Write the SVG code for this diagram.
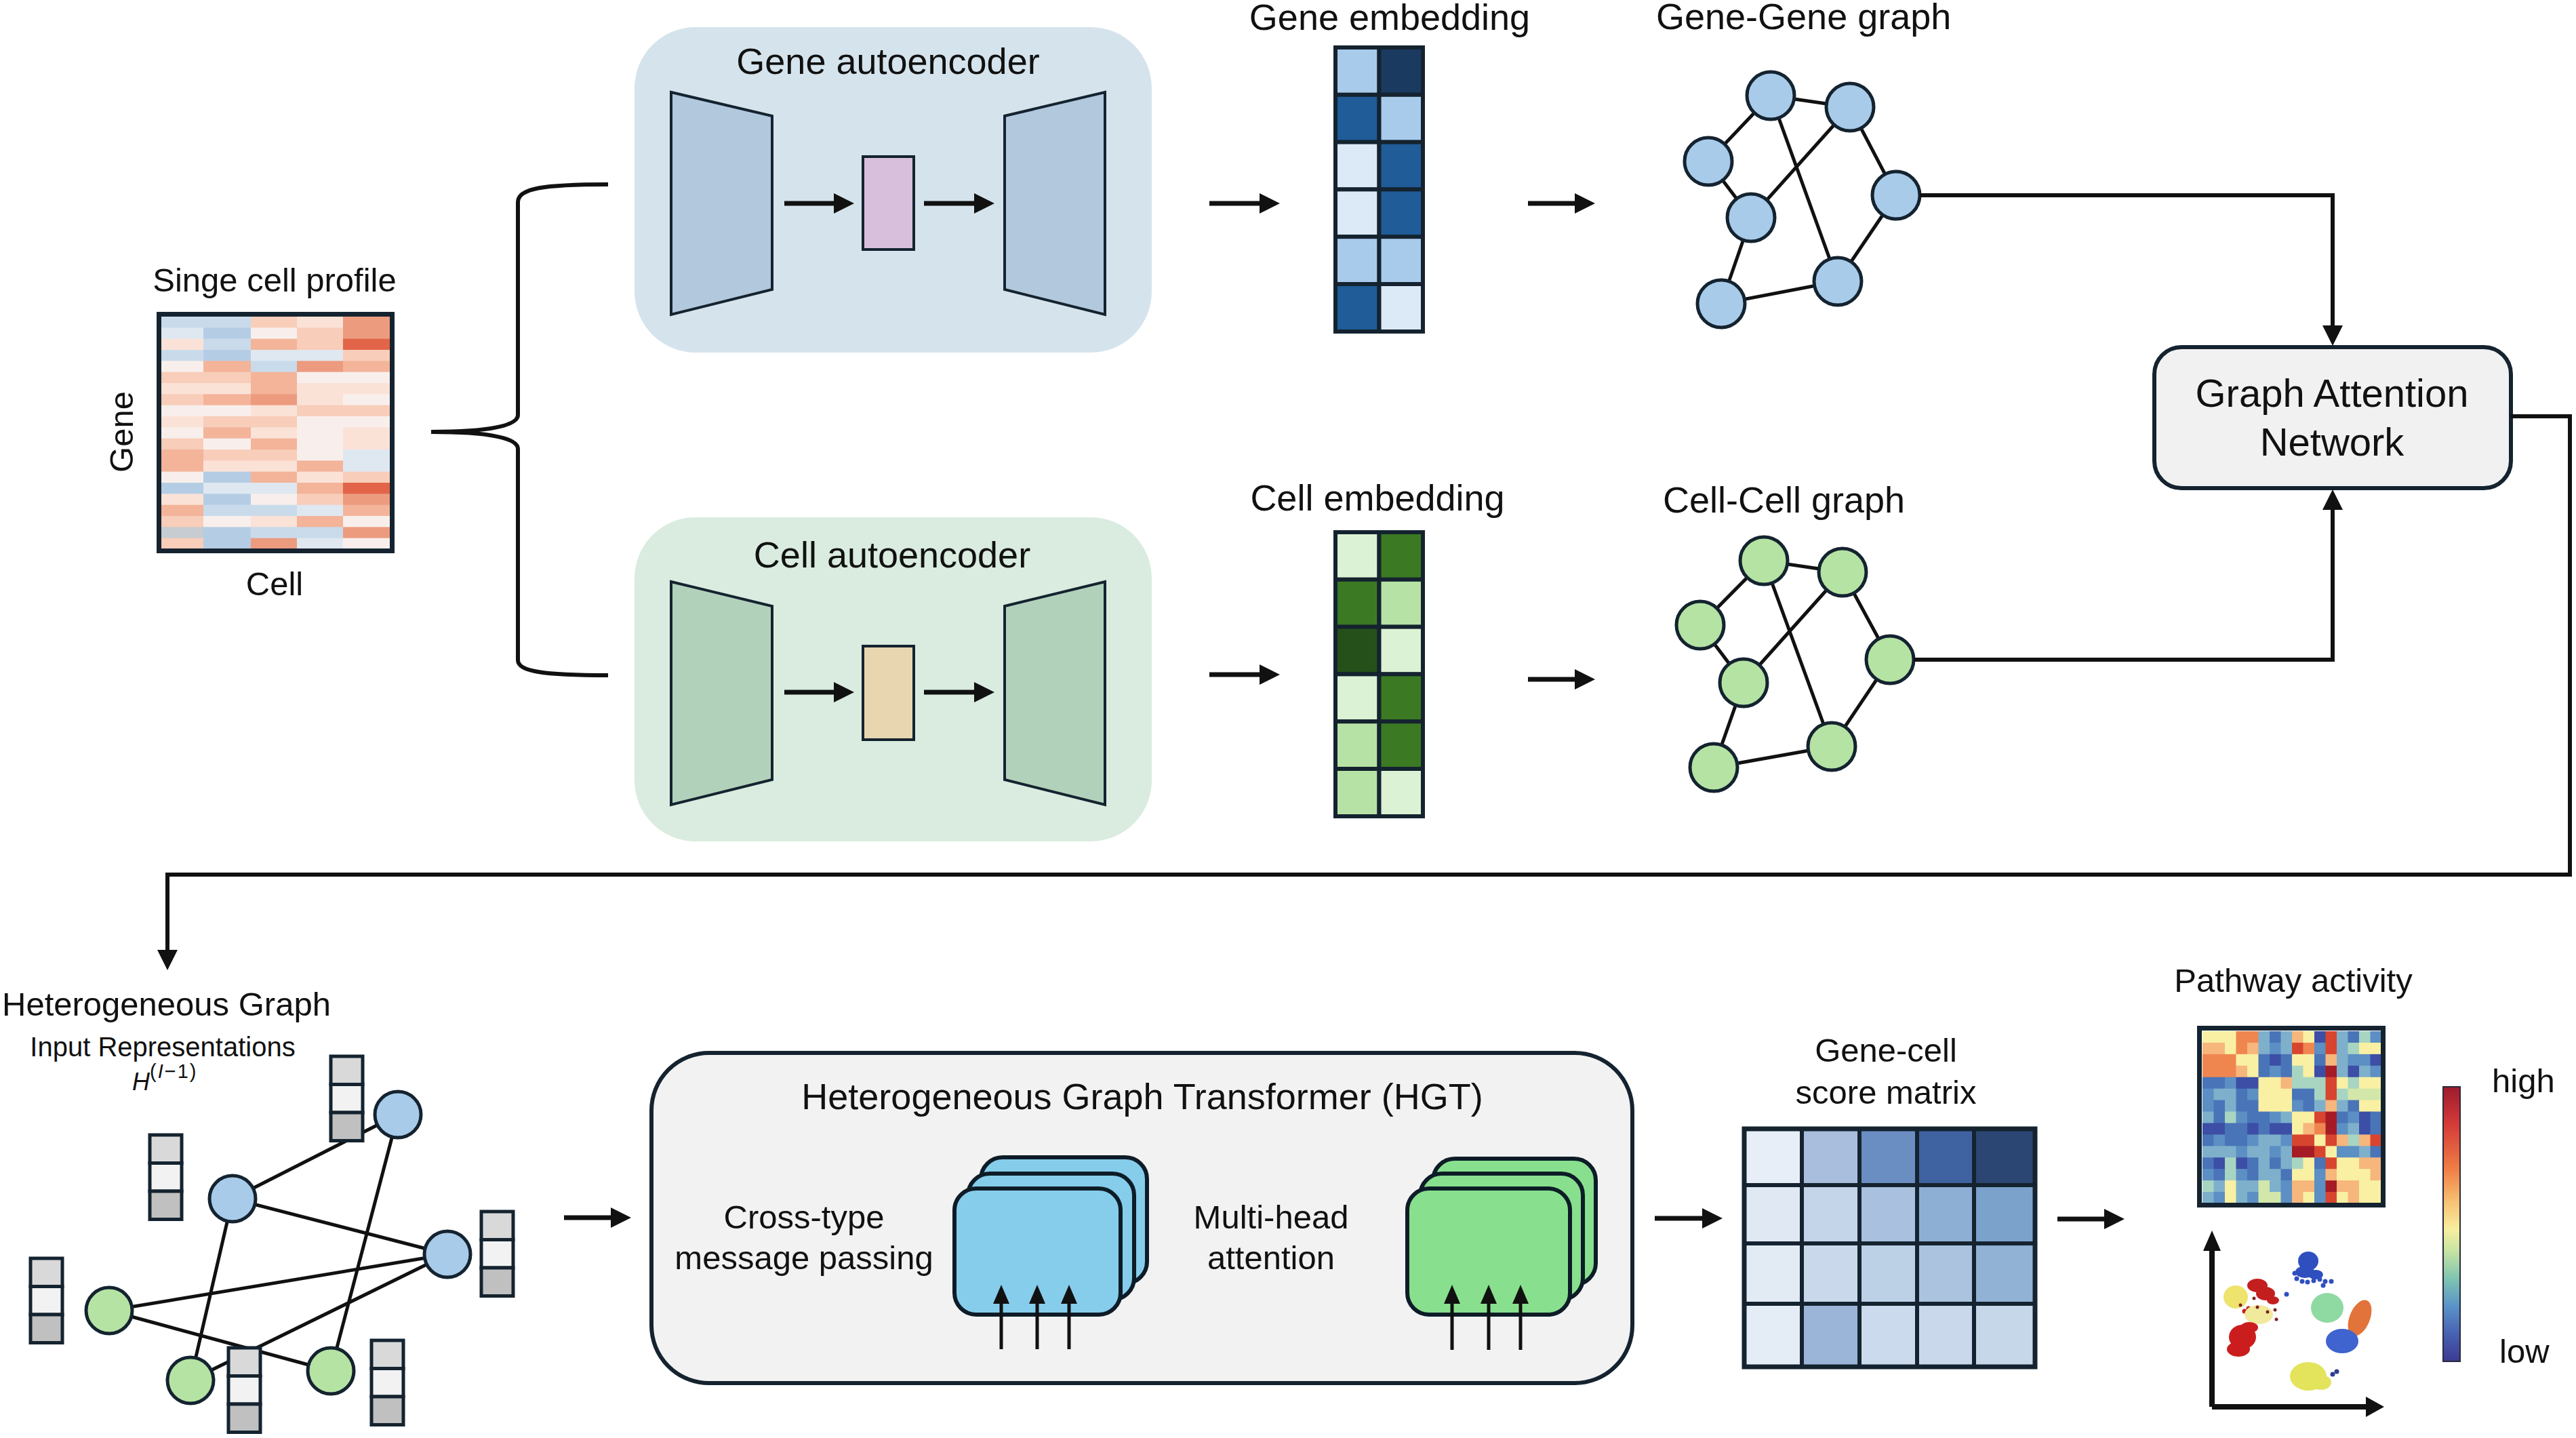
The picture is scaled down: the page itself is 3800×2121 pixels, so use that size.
<svg xmlns="http://www.w3.org/2000/svg" width="3800" height="2121" viewBox="0 0 3800 2121">
<defs>
<style>
text{font-family:"Liberation Sans",Arial,Helvetica,sans-serif;fill:#111}
.t54{font-size:54px}
.t49{font-size:49px}
.t58{font-size:58px}
.t40{font-size:40px}
.mid{text-anchor:middle}
.conn{fill:none;stroke:#111;stroke-width:7}
.conn6{fill:none;stroke:#111;stroke-width:6}
.edge{stroke:#111;stroke-width:5;fill:none}
.nd{stroke:#14232f;stroke-width:5}
.blue{fill:#a8cbea}
.green{fill:#b5e3a4}
.trap{stroke:#14232f;stroke-width:4}
.cellb{stroke:#14232f;stroke-width:6}
.card{stroke:#0d1c27;stroke-width:6}
.Y{fill:#f9f0a3}.O{fill:#ef8650}.LO{fill:#f6b67c}.R{fill:#d8452f}.DR{fill:#a51c26}.DB{fill:#3c4ea5}.B{fill:#4a74b8}.MB{fill:#5c8fc3}.LB{fill:#7eb0cc}.C{fill:#a8d5c2}.LG{fill:#d2e7a9}
.b3{fill:#b5cde4}.b2{fill:#c9dbeb}.b1{fill:#dfe8f1}.w{fill:#f8efec}.r1{fill:#fbe2d7}.r2{fill:#f8cdb9}.r3{fill:#f3b49a}.r4{fill:#ec9b7f}.r5{fill:#e26549}.g{fill:#c6ccd2}
</style>
<marker id="ah" markerUnits="userSpaceOnUse" markerWidth="30" markerHeight="30" refX="10" refY="15" orient="auto"><path d="M0,0 L30,15 L0,30 z" fill="#111"/></marker>
<marker id="ahs" markerUnits="userSpaceOnUse" markerWidth="28" markerHeight="24" refX="8" refY="12" orient="auto"><path d="M0,0 L28,12 L0,24 z" fill="#111"/></marker>
<linearGradient id="cbar" x1="0" y1="0" x2="0" y2="1">
<stop offset="0" stop-color="#9e1a2e"/>
<stop offset="0.14" stop-color="#d53c38"/>
<stop offset="0.3" stop-color="#f07e45"/>
<stop offset="0.42" stop-color="#f8c274"/>
<stop offset="0.52" stop-color="#f7ef9f"/>
<stop offset="0.6" stop-color="#c6e3a2"/>
<stop offset="0.7" stop-color="#7ec4b2"/>
<stop offset="0.8" stop-color="#5a92c8"/>
<stop offset="0.9" stop-color="#4862b2"/>
<stop offset="1" stop-color="#3b3a92"/>
</linearGradient>
<g id="vec">
<rect x="0" y="0" width="47" height="41.5" fill="#d9d9d9" stroke="#14232f" stroke-width="5"/>
<rect x="0" y="41.5" width="47" height="41.5" fill="#f2f2f2" stroke="#14232f" stroke-width="5"/>
<rect x="0" y="83" width="47" height="41.5" fill="#c0c0c0" stroke="#14232f" stroke-width="5"/>
</g>
</defs>
<rect width="3800" height="2121" fill="#ffffff"/>

<!-- Single cell profile -->
<g id="single-cell-profile">
<text class="t49 mid" x="405" y="430">Singe cell profile</text>
<text class="t49 mid" transform="translate(196,637) rotate(-90)">Gene</text>
<text class="t49 mid" x="405" y="878">Cell</text>
<g transform="translate(238 467) scale(1 16.333)">
<rect class="b2" x="0" y="0" width="62" height="1.05"/><rect class="b2" x="62" y="0" width="70" height="1.05"/><rect class="r2" x="132" y="0" width="68" height="1.05"/><rect class="r1" x="200" y="0" width="68" height="1.05"/><rect class="r4" x="268" y="0" width="70" height="1.05"/>
<rect class="b1" x="0" y="1" width="62" height="1.05"/><rect class="b3" x="62" y="1" width="70" height="1.05"/><rect class="w" x="132" y="1" width="68" height="1.05"/><rect class="r2" x="200" y="1" width="68" height="1.05"/><rect class="r4" x="268" y="1" width="70" height="1.05"/>
<rect class="r1" x="0" y="2" width="62" height="1.05"/><rect class="b2" x="62" y="2" width="70" height="1.05"/><rect class="r3" x="132" y="2" width="68" height="1.05"/><rect class="r2" x="200" y="2" width="68" height="1.05"/><rect class="r5" x="268" y="2" width="70" height="1.05"/>
<rect class="b2" x="0" y="3" width="62" height="1.05"/><rect class="b3" x="62" y="3" width="70" height="1.05"/><rect class="b1" x="132" y="3" width="68" height="1.05"/><rect class="b1" x="200" y="3" width="68" height="1.05"/><rect class="r2" x="268" y="3" width="70" height="1.05"/>
<rect class="w" x="0" y="4" width="62" height="1.05"/><rect class="r3" x="62" y="4" width="70" height="1.05"/><rect class="b2" x="132" y="4" width="68" height="1.05"/><rect class="r4" x="200" y="4" width="68" height="1.05"/><rect class="r3" x="268" y="4" width="70" height="1.05"/>
<rect class="r2" x="0" y="5" width="62" height="1.05"/><rect class="r2" x="62" y="5" width="70" height="1.05"/><rect class="r3" x="132" y="5" width="68" height="1.05"/><rect class="w" x="200" y="5" width="68" height="1.05"/><rect class="w" x="268" y="5" width="70" height="1.05"/>
<rect class="r1" x="0" y="6" width="62" height="1.05"/><rect class="r1" x="62" y="6" width="70" height="1.05"/><rect class="r3" x="132" y="6" width="68" height="1.05"/><rect class="r1" x="200" y="6" width="68" height="1.05"/><rect class="r1" x="268" y="6" width="70" height="1.05"/>
<rect class="r2" x="0" y="7" width="62" height="1.05"/><rect class="r3" x="62" y="7" width="70" height="1.05"/><rect class="r4" x="132" y="7" width="68" height="1.05"/><rect class="r1" x="200" y="7" width="68" height="1.05"/><rect class="w" x="268" y="7" width="70" height="1.05"/>
<rect class="w" x="0" y="8" width="62" height="1.05"/><rect class="w" x="62" y="8" width="70" height="1.05"/><rect class="r1" x="132" y="8" width="68" height="1.05"/><rect class="r2" x="200" y="8" width="68" height="1.05"/><rect class="r2" x="268" y="8" width="70" height="1.05"/>
<rect class="r1" x="0" y="9" width="62" height="1.05"/><rect class="r2" x="62" y="9" width="70" height="1.05"/><rect class="r2" x="132" y="9" width="68" height="1.05"/><rect class="w" x="200" y="9" width="68" height="1.05"/><rect class="w" x="268" y="9" width="70" height="1.05"/>
<rect class="w" x="0" y="10" width="62" height="1.05"/><rect class="r3" x="62" y="10" width="70" height="1.05"/><rect class="r1" x="132" y="10" width="68" height="1.05"/><rect class="w" x="200" y="10" width="68" height="1.05"/><rect class="r1" x="268" y="10" width="70" height="1.05"/>
<rect class="r2" x="0" y="11" width="62" height="1.05"/><rect class="w" x="62" y="11" width="70" height="1.05"/><rect class="r3" x="132" y="11" width="68" height="1.05"/><rect class="w" x="200" y="11" width="68" height="1.05"/><rect class="r1" x="268" y="11" width="70" height="1.05"/>
<rect class="r3" x="0" y="12" width="62" height="1.05"/><rect class="r2" x="62" y="12" width="70" height="1.05"/><rect class="r2" x="132" y="12" width="68" height="1.05"/><rect class="w" x="200" y="12" width="68" height="1.05"/><rect class="b1" x="268" y="12" width="70" height="1.05"/>
<rect class="r3" x="0" y="13" width="62" height="1.05"/><rect class="r1" x="62" y="13" width="70" height="1.05"/><rect class="r1" x="132" y="13" width="68" height="1.05"/><rect class="r3" x="200" y="13" width="68" height="1.05"/><rect class="b1" x="268" y="13" width="70" height="1.05"/>
<rect class="w" x="0" y="14" width="62" height="1.05"/><rect class="b3" x="62" y="14" width="70" height="1.05"/><rect class="r3" x="132" y="14" width="68" height="1.05"/><rect class="r1" x="200" y="14" width="68" height="1.05"/><rect class="r2" x="268" y="14" width="70" height="1.05"/>
<rect class="b3" x="0" y="15" width="62" height="1.05"/><rect class="b1" x="62" y="15" width="70" height="1.05"/><rect class="b1" x="132" y="15" width="68" height="1.05"/><rect class="r3" x="200" y="15" width="68" height="1.05"/><rect class="r5" x="268" y="15" width="70" height="1.05"/>
<rect class="r1" x="0" y="16" width="62" height="1.05"/><rect class="b3" x="62" y="16" width="70" height="1.05"/><rect class="w" x="132" y="16" width="68" height="1.05"/><rect class="r2" x="200" y="16" width="68" height="1.05"/><rect class="r4" x="268" y="16" width="70" height="1.05"/>
<rect class="r3" x="0" y="17" width="62" height="1.05"/><rect class="b2" x="62" y="17" width="70" height="1.05"/><rect class="b2" x="132" y="17" width="68" height="1.05"/><rect class="b1" x="200" y="17" width="68" height="1.05"/><rect class="r3" x="268" y="17" width="70" height="1.05"/>
<rect class="r2" x="0" y="18" width="62" height="1.05"/><rect class="w" x="62" y="18" width="70" height="1.05"/><rect class="r1" x="132" y="18" width="68" height="1.05"/><rect class="r3" x="200" y="18" width="68" height="1.05"/><rect class="w" x="268" y="18" width="70" height="1.05"/>
<rect class="g" x="0" y="19" width="62" height="1.05"/><rect class="b3" x="62" y="19" width="70" height="1.05"/><rect class="b2" x="132" y="19" width="68" height="1.05"/><rect class="b2" x="200" y="19" width="68" height="1.05"/><rect class="r4" x="268" y="19" width="70" height="1.05"/>
<rect class="r2" x="0" y="20" width="62" height="1"/><rect class="b3" x="62" y="20" width="70" height="1"/><rect class="r4" x="132" y="20" width="68" height="1"/><rect class="b1" x="200" y="20" width="68" height="1"/><rect class="w" x="268" y="20" width="70" height="1"/>
</g>
<rect x="234.5" y="463.5" width="344" height="349" fill="none" stroke="#14232f" stroke-width="7"/>
</g>

<!-- Gene autoencoder -->
<g id="gene-autoencoder">
<rect x="936" y="40" width="763" height="480" rx="90" fill="#d5e4ec"/>
<text class="t54 mid" x="1310" y="109">Gene autoencoder</text>
<polygon class="trap" points="990,136 1139,171 1139,427 990,464" fill="#b1c8dd"/>
<rect x="1273" y="231" width="75" height="137" fill="#d8bfdb" stroke="#14232f" stroke-width="4"/>
<polygon class="trap" points="1482,171 1630,136 1630,464 1482,427" fill="#b1c8dd"/>
<line class="conn" x1="1157" y1="300" x2="1240" y2="300" marker-end="url(#ah)"/>
<line class="conn" x1="1363" y1="300" x2="1447" y2="300" marker-end="url(#ah)"/>
</g>

<!-- Cell autoencoder -->
<g id="cell-autoencoder">
<rect x="936" y="763" width="763" height="478" rx="90" fill="#d9ecdf"/>
<text class="t54 mid" x="1316" y="837">Cell autoencoder</text>
<polygon class="trap" points="990,858 1139,894 1139,1150 990,1187" fill="#b2d1bb"/>
<rect x="1273" y="953" width="75" height="138" fill="#e7d6b0" stroke="#14232f" stroke-width="4"/>
<polygon class="trap" points="1482,894 1630,858 1630,1187 1482,1150" fill="#b2d1bb"/>
<line class="conn" x1="1157" y1="1021" x2="1240" y2="1021" marker-end="url(#ah)"/>
<line class="conn" x1="1363" y1="1021" x2="1447" y2="1021" marker-end="url(#ah)"/>
</g>

<!-- Gene embedding -->
<g id="gene-embedding">
<text class="t54 mid" x="2050" y="44">Gene embedding</text>
<rect class="cellb" x="1970" y="70" width="64.5" height="69.8" fill="#a9cbeb"/><rect class="cellb" x="2034.5" y="70" width="64.5" height="69.8" fill="#1b3a5f"/>
<rect class="cellb" x="1970" y="139.8" width="64.5" height="69.8" fill="#1f5c98"/><rect class="cellb" x="2034.5" y="139.8" width="64.5" height="69.8" fill="#a9cbeb"/>
<rect class="cellb" x="1970" y="209.6" width="64.5" height="69.8" fill="#dce9f6"/><rect class="cellb" x="2034.5" y="209.6" width="64.5" height="69.8" fill="#1f5c98"/>
<rect class="cellb" x="1970" y="279.4" width="64.5" height="69.8" fill="#dce9f6"/><rect class="cellb" x="2034.5" y="279.4" width="64.5" height="69.8" fill="#1f5c98"/>
<rect class="cellb" x="1970" y="349.2" width="64.5" height="69.8" fill="#a9cbeb"/><rect class="cellb" x="2034.5" y="349.2" width="64.5" height="69.8" fill="#a9cbeb"/>
<rect class="cellb" x="1970" y="419" width="64.5" height="70" fill="#1f5c98"/><rect class="cellb" x="2034.5" y="419" width="64.5" height="70" fill="#dce9f6"/>
</g>

<!-- Cell embedding -->
<g id="cell-embedding">
<text class="t54 mid" x="2032" y="753">Cell embedding</text>
<rect class="cellb" x="1970" y="785" width="64.5" height="69.8" fill="#dcf2d4"/><rect class="cellb" x="2034.5" y="785" width="64.5" height="69.8" fill="#3b7a23"/>
<rect class="cellb" x="1970" y="854.8" width="64.5" height="69.8" fill="#3b7a23"/><rect class="cellb" x="2034.5" y="854.8" width="64.5" height="69.8" fill="#b6e3a5"/>
<rect class="cellb" x="1970" y="924.6" width="64.5" height="69.8" fill="#26501a"/><rect class="cellb" x="2034.5" y="924.6" width="64.5" height="69.8" fill="#dcf2d4"/>
<rect class="cellb" x="1970" y="994.4" width="64.5" height="69.8" fill="#dcf2d4"/><rect class="cellb" x="2034.5" y="994.4" width="64.5" height="69.8" fill="#3b7a23"/>
<rect class="cellb" x="1970" y="1064.2" width="64.5" height="69.8" fill="#b6e3a5"/><rect class="cellb" x="2034.5" y="1064.2" width="64.5" height="69.8" fill="#3b7a23"/>
<rect class="cellb" x="1970" y="1134" width="64.5" height="70" fill="#b6e3a5"/><rect class="cellb" x="2034.5" y="1134" width="64.5" height="70" fill="#dcf2d4"/>
</g>

<!-- Gene-Gene graph -->
<g id="gene-gene-graph">
<text class="t54" x="2443" y="43">Gene-Gene graph</text>
<path class="edge" d="M2612 141L2729 158M2612 141L2520 238M2612 141L2711 415M2729 158L2583 321M2729 158L2797 288M2520 238L2583 321M2583 321L2539 448M2539 448L2711 415M2711 415L2797 288"/>
<circle class="nd blue" cx="2612" cy="141" r="35"/>
<circle class="nd blue" cx="2729" cy="158" r="35"/>
<circle class="nd blue" cx="2520" cy="238" r="35"/>
<circle class="nd blue" cx="2583" cy="321" r="35"/>
<circle class="nd blue" cx="2797" cy="288" r="35"/>
<circle class="nd blue" cx="2711" cy="415" r="35"/>
<circle class="nd blue" cx="2539" cy="448" r="35"/>
</g>

<!-- Cell-Cell graph -->
<g id="cell-cell-graph">
<text class="t54" x="2453" y="756">Cell-Cell graph</text>
<path class="edge" d="M2602 827L2718 844M2602 827L2508 922M2602 827L2702 1101M2718 844L2572 1007M2718 844L2788 973M2508 922L2572 1007M2572 1007L2528 1132M2528 1132L2702 1101M2702 1101L2788 973"/>
<circle class="nd green" cx="2602" cy="827" r="35"/>
<circle class="nd green" cx="2718" cy="844" r="35"/>
<circle class="nd green" cx="2508" cy="922" r="35"/>
<circle class="nd green" cx="2572" cy="1007" r="35"/>
<circle class="nd green" cx="2788" cy="973" r="35"/>
<circle class="nd green" cx="2702" cy="1101" r="35"/>
<circle class="nd green" cx="2528" cy="1132" r="35"/>
</g>

<!-- Graph Attention Network -->
<g id="gat">
<rect x="3178" y="512" width="526" height="208" rx="40" fill="#f1f1f1" stroke="#14232f" stroke-width="6"/>
<text class="t58 mid" x="3440" y="600">Graph Attention</text>
<text class="t58 mid" x="3440" y="672">Network</text>
</g>

<!-- Heterogeneous graph -->
<g id="heterogeneous-graph">
<text class="t49" x="3" y="1498">Heterogeneous Graph</text>
<text class="t40 mid" x="240" y="1558">Input Representations</text>
<text x="195" y="1608" font-family="'Liberation Serif','Times New Roman',serif" font-style="italic" font-size="36">H</text>
<text x="221" y="1590" font-family="'Liberation Serif','Times New Roman',serif" font-size="29" letter-spacing="2">(<tspan font-style="italic">I</tspan>−1)</text>
<path class="edge" stroke-width="6" d="M587 1644L343 1768M343 1768L660 1850M343 1768L281 2036M587 1644L488 2022M161 1933L660 1850M161 1933L488 2022M660 1850L281 2036"/>
<use href="#vec" x="488" y="1558"/>
<use href="#vec" x="221" y="1674"/>
<use href="#vec" x="710" y="1787"/>
<use href="#vec" x="45" y="1856"/>
<use href="#vec" x="337" y="1988"/>
<use href="#vec" x="548" y="1977"/>
<circle class="nd blue" cx="587" cy="1644" r="34"/>
<circle class="nd blue" cx="343" cy="1768" r="34"/>
<circle class="nd blue" cx="660" cy="1850" r="34"/>
<circle class="nd green" cx="161" cy="1933" r="34"/>
<circle class="nd green" cx="281" cy="2036" r="34"/>
<circle class="nd green" cx="488" cy="2022" r="34"/>
</g>

<!-- HGT -->
<g id="hgt">
<rect x="961" y="1553" width="1447" height="487" rx="85" fill="#f2f2f2" stroke="#14232f" stroke-width="6"/>
<text class="t54 mid" x="1685" y="1636">Heterogeneous Graph Transformer (HGT)</text>
<text class="t49 mid" x="1186" y="1812">Cross-type</text>
<text class="t49 mid" x="1186" y="1872">message passing</text>
<text class="t49 mid" x="1875" y="1812">Multi-head</text>
<text class="t49 mid" x="1875" y="1872">attention</text>
<rect class="card" x="1447" y="1707" width="245" height="186" rx="32" fill="#86cdec"/>
<rect class="card" x="1428" y="1731" width="245" height="186" rx="32" fill="#86cdec"/>
<rect class="card" x="1408" y="1753" width="245" height="186" rx="32" fill="#86cdec"/>
<rect class="card" x="2114" y="1709" width="240" height="186" rx="32" fill="#88e08e"/>
<rect class="card" x="2095" y="1731" width="240" height="186" rx="32" fill="#88e08e"/>
<rect class="card" x="2076" y="1753" width="240" height="186" rx="32" fill="#88e08e"/>
<g stroke="#111" stroke-width="5">
<line x1="1477" y1="1990" x2="1477" y2="1915" marker-end="url(#ahs)"/>
<line x1="1530" y1="1990" x2="1530" y2="1915" marker-end="url(#ahs)"/>
<line x1="1577" y1="1990" x2="1577" y2="1915" marker-end="url(#ahs)"/>
<line x1="2142" y1="1991" x2="2142" y2="1915" marker-end="url(#ahs)"/>
<line x1="2196" y1="1991" x2="2196" y2="1915" marker-end="url(#ahs)"/>
<line x1="2243" y1="1991" x2="2243" y2="1915" marker-end="url(#ahs)"/>
</g>
</g>

<!-- Gene-cell score matrix -->
<g id="score-matrix">
<text class="t49 mid" x="2782" y="1566">Gene-cell</text>
<text class="t49 mid" x="2782" y="1628">score matrix</text>
<g class="cellb">
<rect x="2573" y="1665" width="85" height="83" fill="#e8eef7"/><rect x="2658" y="1665" width="85" height="83" fill="#a8bedc"/><rect x="2743" y="1665" width="85" height="83" fill="#6b8ec2"/><rect x="2828" y="1665" width="84" height="83" fill="#3f62a0"/><rect x="2912" y="1665" width="90" height="83" fill="#2c4673"/>
<rect x="2573" y="1748" width="85" height="86" fill="#dfe8f3"/><rect x="2658" y="1748" width="85" height="86" fill="#c4d4e9"/><rect x="2743" y="1748" width="85" height="86" fill="#a9c1de"/><rect x="2828" y="1748" width="84" height="86" fill="#8eafd4"/><rect x="2912" y="1748" width="90" height="86" fill="#7ba2cb"/>
<rect x="2573" y="1834" width="85" height="89" fill="#e2eaf4"/><rect x="2658" y="1834" width="85" height="89" fill="#c9d8eb"/><rect x="2743" y="1834" width="85" height="89" fill="#bcd0e6"/><rect x="2828" y="1834" width="84" height="89" fill="#abc3df"/><rect x="2912" y="1834" width="90" height="89" fill="#91b1d5"/>
<rect x="2573" y="1923" width="85" height="93" fill="#e4ecf6"/><rect x="2658" y="1923" width="85" height="93" fill="#9ab5d8"/><rect x="2743" y="1923" width="85" height="93" fill="#cbdaec"/><rect x="2828" y="1923" width="84" height="93" fill="#c9d9eb"/><rect x="2912" y="1923" width="90" height="93" fill="#c7d7ea"/>
</g>
<rect x="2573" y="1665" width="429" height="351" fill="none" stroke="#14232f" stroke-width="7"/>
</g>

<!-- Pathway activity -->
<g id="pathway-activity">
<text class="t49 mid" x="3383" y="1463">Pathway activity</text>
<g transform="translate(3249 1521) scale(16.5 16.933)">
<rect class="Y" x="0" y="0" width="1.04" height="1.04"/><rect class="Y" x="1" y="0" width="1.04" height="1.04"/><rect class="Y" x="2" y="0" width="1.04" height="1.04"/><rect class="O" x="3" y="0" width="1.04" height="1.04"/><rect class="O" x="4" y="0" width="1.04" height="1.04"/><rect class="LB" x="5" y="0" width="1.04" height="1.04"/><rect class="B" x="6" y="0" width="1.04" height="1.04"/><rect class="LB" x="7" y="0" width="1.04" height="1.04"/><rect class="LO" x="8" y="0" width="1.04" height="1.04"/><rect class="Y" x="9" y="0" width="1.04" height="1.04"/><rect class="DB" x="10" y="0" width="1.04" height="1.04"/><rect class="R" x="11" y="0" width="1.04" height="1.04"/><rect class="LB" x="12" y="0" width="1.04" height="1.04"/><rect class="B" x="13" y="0" width="1.04" height="1.04"/><rect class="C" x="14" y="0" width="1.04" height="1.04"/><rect class="MB" x="15" y="0" width="1" height="1.04"/>
<rect class="LO" x="0" y="1" width="1.04" height="1.04"/><rect class="LO" x="1" y="1" width="1.04" height="1.04"/><rect class="Y" x="2" y="1" width="1.04" height="1.04"/><rect class="O" x="3" y="1" width="1.04" height="1.04"/><rect class="LO" x="4" y="1" width="1.04" height="1.04"/><rect class="LB" x="5" y="1" width="1.04" height="1.04"/><rect class="MB" x="6" y="1" width="1.04" height="1.04"/><rect class="LB" x="7" y="1" width="1.04" height="1.04"/><rect class="R" x="8" y="1" width="1.04" height="1.04"/><rect class="O" x="9" y="1" width="1.04" height="1.04"/><rect class="MB" x="10" y="1" width="1.04" height="1.04"/><rect class="R" x="11" y="1" width="1.04" height="1.04"/><rect class="LB" x="12" y="1" width="1.04" height="1.04"/><rect class="C" x="13" y="1" width="1.04" height="1.04"/><rect class="Y" x="14" y="1" width="1.04" height="1.04"/><rect class="Y" x="15" y="1" width="1" height="1.04"/>
<rect class="O" x="0" y="2" width="1.04" height="1.04"/><rect class="O" x="1" y="2" width="1.04" height="1.04"/><rect class="O" x="2" y="2" width="1.04" height="1.04"/><rect class="Y" x="3" y="2" width="1.04" height="1.04"/><rect class="Y" x="4" y="2" width="1.04" height="1.04"/><rect class="B" x="5" y="2" width="1.04" height="1.04"/><rect class="DB" x="6" y="2" width="1.04" height="1.04"/><rect class="B" x="7" y="2" width="1.04" height="1.04"/><rect class="Y" x="8" y="2" width="1.04" height="1.04"/><rect class="Y" x="9" y="2" width="1.04" height="1.04"/><rect class="B" x="10" y="2" width="1.04" height="1.04"/><rect class="LO" x="11" y="2" width="1.04" height="1.04"/><rect class="LB" x="12" y="2" width="1.04" height="1.04"/><rect class="MB" x="13" y="2" width="1.04" height="1.04"/><rect class="MB" x="14" y="2" width="1.04" height="1.04"/><rect class="DB" x="15" y="2" width="1" height="1.04"/>
<rect class="O" x="0" y="3" width="1.04" height="1.04"/><rect class="O" x="1" y="3" width="1.04" height="1.04"/><rect class="O" x="2" y="3" width="1.04" height="1.04"/><rect class="LO" x="3" y="3" width="1.04" height="1.04"/><rect class="Y" x="4" y="3" width="1.04" height="1.04"/><rect class="B" x="5" y="3" width="1.04" height="1.04"/><rect class="MB" x="6" y="3" width="1.04" height="1.04"/><rect class="B" x="7" y="3" width="1.04" height="1.04"/><rect class="C" x="8" y="3" width="1.04" height="1.04"/><rect class="Y" x="9" y="3" width="1.04" height="1.04"/><rect class="DB" x="10" y="3" width="1.04" height="1.04"/><rect class="DR" x="11" y="3" width="1.04" height="1.04"/><rect class="LB" x="12" y="3" width="1.04" height="1.04"/><rect class="DB" x="13" y="3" width="1.04" height="1.04"/><rect class="LB" x="14" y="3" width="1.04" height="1.04"/><rect class="MB" x="15" y="3" width="1" height="1.04"/>
<rect class="B" x="0" y="4" width="1.04" height="1.04"/><rect class="B" x="1" y="4" width="1.04" height="1.04"/><rect class="MB" x="2" y="4" width="1.04" height="1.04"/><rect class="DB" x="3" y="4" width="1.04" height="1.04"/><rect class="DB" x="4" y="4" width="1.04" height="1.04"/><rect class="Y" x="5" y="4" width="1.04" height="1.04"/><rect class="Y" x="6" y="4" width="1.04" height="1.04"/><rect class="LO" x="7" y="4" width="1.04" height="1.04"/><rect class="C" x="8" y="4" width="1.04" height="1.04"/><rect class="C" x="9" y="4" width="1.04" height="1.04"/><rect class="C" x="10" y="4" width="1.04" height="1.04"/><rect class="R" x="11" y="4" width="1.04" height="1.04"/><rect class="Y" x="12" y="4" width="1.04" height="1.04"/><rect class="C" x="13" y="4" width="1.04" height="1.04"/><rect class="Y" x="14" y="4" width="1.04" height="1.04"/><rect class="Y" x="15" y="4" width="1" height="1.04"/>
<rect class="MB" x="0" y="5" width="1.04" height="1.04"/><rect class="LB" x="1" y="5" width="1.04" height="1.04"/><rect class="LB" x="2" y="5" width="1.04" height="1.04"/><rect class="B" x="3" y="5" width="1.04" height="1.04"/><rect class="MB" x="4" y="5" width="1.04" height="1.04"/><rect class="Y" x="5" y="5" width="1.04" height="1.04"/><rect class="Y" x="6" y="5" width="1.04" height="1.04"/><rect class="Y" x="7" y="5" width="1.04" height="1.04"/><rect class="B" x="8" y="5" width="1.04" height="1.04"/><rect class="B" x="9" y="5" width="1.04" height="1.04"/><rect class="C" x="10" y="5" width="1.04" height="1.04"/><rect class="R" x="11" y="5" width="1.04" height="1.04"/><rect class="C" x="12" y="5" width="1.04" height="1.04"/><rect class="LG" x="13" y="5" width="1.04" height="1.04"/><rect class="LG" x="14" y="5" width="1.04" height="1.04"/><rect class="LG" x="15" y="5" width="1" height="1.04"/>
<rect class="MB" x="0" y="6" width="1.04" height="1.04"/><rect class="B" x="1" y="6" width="1.04" height="1.04"/><rect class="LB" x="2" y="6" width="1.04" height="1.04"/><rect class="B" x="3" y="6" width="1.04" height="1.04"/><rect class="B" x="4" y="6" width="1.04" height="1.04"/><rect class="Y" x="5" y="6" width="1.04" height="1.04"/><rect class="Y" x="6" y="6" width="1.04" height="1.04"/><rect class="Y" x="7" y="6" width="1.04" height="1.04"/><rect class="MB" x="8" y="6" width="1.04" height="1.04"/><rect class="B" x="9" y="6" width="1.04" height="1.04"/><rect class="LB" x="10" y="6" width="1.04" height="1.04"/><rect class="LO" x="11" y="6" width="1.04" height="1.04"/><rect class="LB" x="12" y="6" width="1.04" height="1.04"/><rect class="B" x="13" y="6" width="1.04" height="1.04"/><rect class="Y" x="14" y="6" width="1.04" height="1.04"/><rect class="Y" x="15" y="6" width="1" height="1.04"/>
<rect class="LB" x="0" y="7" width="1.04" height="1.04"/><rect class="B" x="1" y="7" width="1.04" height="1.04"/><rect class="C" x="2" y="7" width="1.04" height="1.04"/><rect class="MB" x="3" y="7" width="1.04" height="1.04"/><rect class="B" x="4" y="7" width="1.04" height="1.04"/><rect class="B" x="5" y="7" width="1.04" height="1.04"/><rect class="MB" x="6" y="7" width="1.04" height="1.04"/><rect class="LB" x="7" y="7" width="1.04" height="1.04"/><rect class="Y" x="8" y="7" width="1.04" height="1.04"/><rect class="Y" x="9" y="7" width="1.04" height="1.04"/><rect class="R" x="10" y="7" width="1.04" height="1.04"/><rect class="DR" x="11" y="7" width="1.04" height="1.04"/><rect class="B" x="12" y="7" width="1.04" height="1.04"/><rect class="MB" x="13" y="7" width="1.04" height="1.04"/><rect class="DB" x="14" y="7" width="1.04" height="1.04"/><rect class="B" x="15" y="7" width="1" height="1.04"/>
<rect class="DB" x="0" y="8" width="1.04" height="1.04"/><rect class="DB" x="1" y="8" width="1.04" height="1.04"/><rect class="B" x="2" y="8" width="1.04" height="1.04"/><rect class="B" x="3" y="8" width="1.04" height="1.04"/><rect class="DB" x="4" y="8" width="1.04" height="1.04"/><rect class="B" x="5" y="8" width="1.04" height="1.04"/><rect class="DB" x="6" y="8" width="1.04" height="1.04"/><rect class="DB" x="7" y="8" width="1.04" height="1.04"/><rect class="Y" x="8" y="8" width="1.04" height="1.04"/><rect class="LO" x="9" y="8" width="1.04" height="1.04"/><rect class="O" x="10" y="8" width="1.04" height="1.04"/><rect class="DR" x="11" y="8" width="1.04" height="1.04"/><rect class="MB" x="12" y="8" width="1.04" height="1.04"/><rect class="LB" x="13" y="8" width="1.04" height="1.04"/><rect class="DB" x="14" y="8" width="1.04" height="1.04"/><rect class="B" x="15" y="8" width="1" height="1.04"/>
<rect class="B" x="0" y="9" width="1.04" height="1.04"/><rect class="MB" x="1" y="9" width="1.04" height="1.04"/><rect class="B" x="2" y="9" width="1.04" height="1.04"/><rect class="B" x="3" y="9" width="1.04" height="1.04"/><rect class="MB" x="4" y="9" width="1.04" height="1.04"/><rect class="LB" x="5" y="9" width="1.04" height="1.04"/><rect class="LB" x="6" y="9" width="1.04" height="1.04"/><rect class="MB" x="7" y="9" width="1.04" height="1.04"/><rect class="R" x="8" y="9" width="1.04" height="1.04"/><rect class="R" x="9" y="9" width="1.04" height="1.04"/><rect class="Y" x="10" y="9" width="1.04" height="1.04"/><rect class="R" x="11" y="9" width="1.04" height="1.04"/><rect class="LO" x="12" y="9" width="1.04" height="1.04"/><rect class="C" x="13" y="9" width="1.04" height="1.04"/><rect class="LO" x="14" y="9" width="1.04" height="1.04"/><rect class="R" x="15" y="9" width="1" height="1.04"/>
<rect class="LB" x="0" y="10" width="1.04" height="1.04"/><rect class="LB" x="1" y="10" width="1.04" height="1.04"/><rect class="LB" x="2" y="10" width="1.04" height="1.04"/><rect class="MB" x="3" y="10" width="1.04" height="1.04"/><rect class="LB" x="4" y="10" width="1.04" height="1.04"/><rect class="LB" x="5" y="10" width="1.04" height="1.04"/><rect class="MB" x="6" y="10" width="1.04" height="1.04"/><rect class="LB" x="7" y="10" width="1.04" height="1.04"/><rect class="DR" x="8" y="10" width="1.04" height="1.04"/><rect class="DR" x="9" y="10" width="1.04" height="1.04"/><rect class="R" x="10" y="10" width="1.04" height="1.04"/><rect class="Y" x="11" y="10" width="1.04" height="1.04"/><rect class="MB" x="12" y="10" width="1.04" height="1.04"/><rect class="MB" x="13" y="10" width="1.04" height="1.04"/><rect class="LB" x="14" y="10" width="1.04" height="1.04"/><rect class="B" x="15" y="10" width="1" height="1.04"/>
<rect class="B" x="0" y="11" width="1.04" height="1.04"/><rect class="DB" x="1" y="11" width="1.04" height="1.04"/><rect class="C" x="2" y="11" width="1.04" height="1.04"/><rect class="DB" x="3" y="11" width="1.04" height="1.04"/><rect class="B" x="4" y="11" width="1.04" height="1.04"/><rect class="LB" x="5" y="11" width="1.04" height="1.04"/><rect class="B" x="6" y="11" width="1.04" height="1.04"/><rect class="LB" x="7" y="11" width="1.04" height="1.04"/><rect class="C" x="8" y="11" width="1.04" height="1.04"/><rect class="Y" x="9" y="11" width="1.04" height="1.04"/><rect class="B" x="10" y="11" width="1.04" height="1.04"/><rect class="R" x="11" y="11" width="1.04" height="1.04"/><rect class="Y" x="12" y="11" width="1.04" height="1.04"/><rect class="Y" x="13" y="11" width="1.04" height="1.04"/><rect class="LO" x="14" y="11" width="1.04" height="1.04"/><rect class="LO" x="15" y="11" width="1" height="1.04"/>
<rect class="MB" x="0" y="12" width="1.04" height="1.04"/><rect class="B" x="1" y="12" width="1.04" height="1.04"/><rect class="C" x="2" y="12" width="1.04" height="1.04"/><rect class="MB" x="3" y="12" width="1.04" height="1.04"/><rect class="B" x="4" y="12" width="1.04" height="1.04"/><rect class="LB" x="5" y="12" width="1.04" height="1.04"/><rect class="LB" x="6" y="12" width="1.04" height="1.04"/><rect class="B" x="7" y="12" width="1.04" height="1.04"/><rect class="Y" x="8" y="12" width="1.04" height="1.04"/><rect class="Y" x="9" y="12" width="1.04" height="1.04"/><rect class="MB" x="10" y="12" width="1.04" height="1.04"/><rect class="LO" x="11" y="12" width="1.04" height="1.04"/><rect class="Y" x="12" y="12" width="1.04" height="1.04"/><rect class="Y" x="13" y="12" width="1.04" height="1.04"/><rect class="Y" x="14" y="12" width="1.04" height="1.04"/><rect class="LO" x="15" y="12" width="1" height="1.04"/>
<rect class="C" x="0" y="13" width="1.04" height="1.04"/><rect class="LB" x="1" y="13" width="1.04" height="1.04"/><rect class="Y" x="2" y="13" width="1.04" height="1.04"/><rect class="LB" x="3" y="13" width="1.04" height="1.04"/><rect class="LB" x="4" y="13" width="1.04" height="1.04"/><rect class="LG" x="5" y="13" width="1.04" height="1.04"/><rect class="LB" x="6" y="13" width="1.04" height="1.04"/><rect class="MB" x="7" y="13" width="1.04" height="1.04"/><rect class="LO" x="8" y="13" width="1.04" height="1.04"/><rect class="LO" x="9" y="13" width="1.04" height="1.04"/><rect class="MB" x="10" y="13" width="1.04" height="1.04"/><rect class="DR" x="11" y="13" width="1.04" height="1.04"/><rect class="LO" x="12" y="13" width="1.04" height="1.04"/><rect class="LO" x="13" y="13" width="1.04" height="1.04"/><rect class="Y" x="14" y="13" width="1.04" height="1.04"/><rect class="Y" x="15" y="13" width="1" height="1.04"/>
<rect class="LB" x="0" y="14" width="1.04" height="1"/><rect class="MB" x="1" y="14" width="1.04" height="1"/><rect class="Y" x="2" y="14" width="1.04" height="1"/><rect class="LB" x="3" y="14" width="1.04" height="1"/><rect class="MB" x="4" y="14" width="1.04" height="1"/><rect class="LG" x="5" y="14" width="1.04" height="1"/><rect class="LG" x="6" y="14" width="1.04" height="1"/><rect class="MB" x="7" y="14" width="1.04" height="1"/><rect class="LO" x="8" y="14" width="1.04" height="1"/><rect class="Y" x="9" y="14" width="1.04" height="1"/><rect class="MB" x="10" y="14" width="1.04" height="1"/><rect class="R" x="11" y="14" width="1.04" height="1"/><rect class="Y" x="12" y="14" width="1.04" height="1"/><rect class="LO" x="13" y="14" width="1.04" height="1"/><rect class="Y" x="14" y="14" width="1.04" height="1"/><rect class="Y" x="15" y="14" width="1" height="1"/>
</g>
<rect x="3244.5" y="1516.5" width="271" height="261" fill="none" stroke="#14232f" stroke-width="7"/>
<!-- scatter -->
<g>
<g fill="#2f4fbf">
<ellipse cx="3405" cy="1860" rx="15" ry="14"/><ellipse cx="3400" cy="1876" rx="14" ry="9"/><ellipse cx="3416" cy="1880" rx="11" ry="7"/>
<circle cx="3385" cy="1878" r="3.5"/><circle cx="3388" cy="1886" r="3.5"/><circle cx="3396" cy="1890" r="3.5"/><circle cx="3404" cy="1891" r="3.5"/><circle cx="3413" cy="1889" r="3.5"/><circle cx="3422" cy="1887" r="3.5"/><circle cx="3430" cy="1890" r="3.5"/><circle cx="3439" cy="1890" r="3.5"/><circle cx="3427" cy="1896" r="3.5"/><circle cx="3373" cy="1909" r="3.5"/>
</g>
<ellipse cx="3298" cy="1913" rx="18" ry="17" fill="#eee36c"/>
<g fill="#c41f1f">
<ellipse cx="3330" cy="1896" rx="15" ry="10"/><ellipse cx="3342" cy="1908" rx="14" ry="10"/><ellipse cx="3353" cy="1918" rx="9" ry="6"/>
<circle cx="3311" cy="1934" r="3.5"/><circle cx="3317" cy="1930" r="3.5"/>
</g>
<ellipse cx="3332" cy="1939" rx="21" ry="14" fill="#f1e99c"/>
<g fill="#7a2222"><circle cx="3325" cy="1915" r="2.5"/><circle cx="3345" cy="1935" r="2.5"/><circle cx="3356" cy="1932" r="2.5"/><circle cx="3358" cy="1946" r="2.5"/><circle cx="3330" cy="1928" r="2.5"/><circle cx="3305" cy="1925" r="2.5"/></g>
<g fill="#cb1d1d">
<ellipse cx="3308" cy="1972" rx="20" ry="18"/><ellipse cx="3302" cy="1990" rx="17" ry="11"/><ellipse cx="3318" cy="1958" rx="13" ry="8"/>
</g>
<ellipse cx="3433" cy="1929" rx="24" ry="22" fill="#8fd9a3"/>
<ellipse cx="3481" cy="1944" rx="15" ry="28" transform="rotate(22 3481 1944)" fill="#e2733a"/>
<ellipse cx="3455" cy="1978" rx="24" ry="18" fill="#3f63cf"/>
<g fill="#e3e45c"><ellipse cx="3405" cy="2030" rx="27" ry="21"/><ellipse cx="3424" cy="2039" rx="15" ry="11"/></g>
<circle cx="3441" cy="2027" r="3.5" fill="#2f3f8f"/><circle cx="3447" cy="2023" r="3.5" fill="#2f3f8f"/>
<path d="M3263 2075 V1835 M3263 2075 H3497" fill="none" stroke="#111" stroke-width="8"/>
<path d="M3250 1845 L3263 1815 L3276 1845 z M3490 2060 L3517 2075 L3490 2090 z" fill="#111"/>
</g>
<rect x="3604" y="1603" width="25" height="405" fill="url(#cbar)" stroke="#2a2a3a" stroke-width="2"/>
<text class="t49" x="3676" y="1611">high</text>
<text class="t49" x="3687" y="2010">low</text>
</g>

<!-- Connectors -->
<g id="connectors">
<path d="M897 272 C800 272 764 278 764 298 L764 612 C764 628 722 637 636 637 C722 637 764 646 764 662 L764 974 C764 990 800 996 897 996" fill="none" stroke="#111" stroke-width="6"/>
<line class="conn" x1="1784" y1="300" x2="1868" y2="300" marker-end="url(#ah)"/>
<line class="conn" x1="1784" y1="995" x2="1868" y2="995" marker-end="url(#ah)"/>
<line class="conn" x1="2254" y1="300" x2="2333" y2="300" marker-end="url(#ah)"/>
<line class="conn" x1="2254" y1="1002" x2="2333" y2="1002" marker-end="url(#ah)"/>
<path class="conn6" d="M2832 288 H3441 V490" marker-end="url(#ah)"/>
<path class="conn6" d="M2823 973 H3441 V742" marker-end="url(#ah)"/>
<path class="conn6" d="M3704 614 H3791 V1290 H247 V1411" marker-end="url(#ah)"/>
<line class="conn" x1="832" y1="1796" x2="911" y2="1796" marker-end="url(#ah)"/>
<line class="conn" x1="2441" y1="1797" x2="2521" y2="1797" marker-end="url(#ah)"/>
<line class="conn" x1="3035" y1="1798" x2="3114" y2="1798" marker-end="url(#ah)"/>
</g>
</svg>
